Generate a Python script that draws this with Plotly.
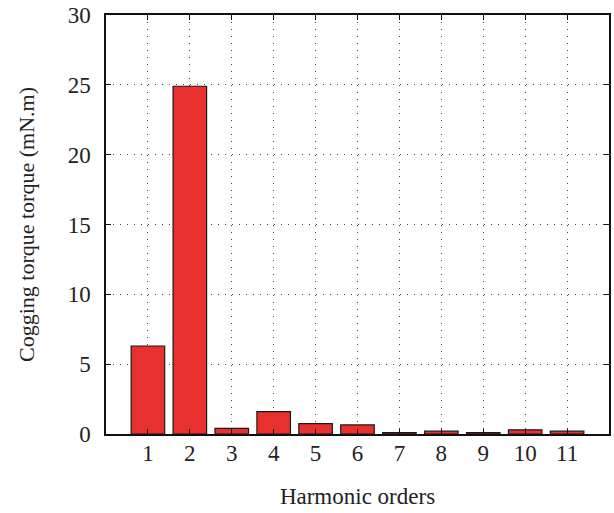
import plotly.graph_objects as go

# Harmonic spectrum of the cogging torque
orders = [1, 2, 3, 4, 5, 6, 7, 8, 9, 10, 11]
torque = [6.3, 24.9, 0.4, 1.6, 0.75, 0.65, 0.1, 0.2, 0.1, 0.3, 0.2]
y_ticks = [0, 5, 10, 15, 20, 25, 30]

font_family = "Liberation Serif, Times New Roman, serif"
grid_style = dict(showgrid=True, gridcolor="#444", griddash="1px,6px", gridwidth=1.3)
frame_style = dict(
    showline=True, linecolor="#111", linewidth=1.5, mirror="ticks",
    ticks="inside", ticklen=5, tickcolor="#111", tickwidth=1.3, zeroline=False,
)

fig = go.Figure(
    go.Bar(
        x=orders,
        y=torque,
        width=0.8,
        marker=dict(color="#e8312e", line=dict(color="#1a1a1a", width=1.2)),
    )
)

fig.update_layout(
    width=614,
    height=513,
    margin=dict(l=106, r=3, t=13, b=79),
    plot_bgcolor="white",
    paper_bgcolor="white",
    showlegend=False,
    font=dict(family=font_family, size=23, color="#222"),
)

fig.update_xaxes(
    range=[0, 12],
    tickvals=orders,
    ticktext=[str(o) for o in orders],
    ticklabelstandoff=-2,
    title=dict(text="Harmonic orders", font=dict(size=23), standoff=23),
    **grid_style,
    **frame_style,
)

fig.update_yaxes(
    range=[0, 30],
    tickvals=y_ticks,
    ticklabelstandoff=9,
    title=dict(text="Cogging torque torque (mN.m)", font=dict(size=22), standoff=27),
    **grid_style,
    **frame_style,
)

fig.write_html("out.html")
